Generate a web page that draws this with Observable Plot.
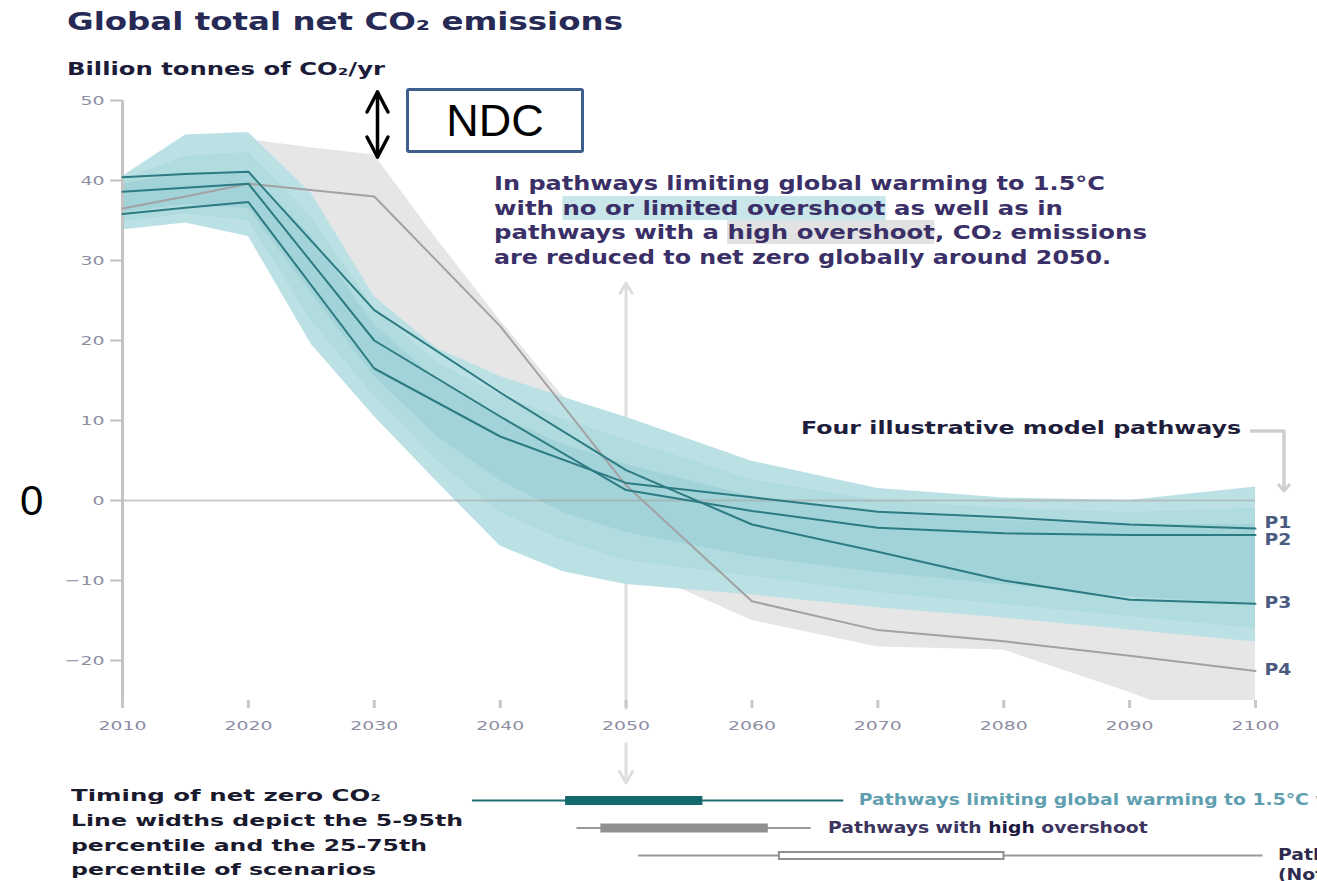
<!DOCTYPE html>
<html>
<head>
<meta charset="utf-8">
<script src="https://cdn.jsdelivr.net/npm/d3@7"></script>
<script src="https://cdn.jsdelivr.net/npm/@observablehq/plot@0.6"></script>
<style>
  html, body { margin: 0; padding: 0; background: #fff; }
  #page { position: relative; width: 1317px; height: 881px; overflow: hidden; font-family: "DejaVu Sans", sans-serif; }
  .abs { position: absolute; white-space: nowrap; }
  .fit { display: inline-block; transform-origin: 0 0; }
  #chart, #timing { position: absolute; left: 0; }
  #chart { top: 0; }
  #timing { top: 770px; }
  #title { left: 67px; top: 9px; font-size: 25px; line-height: 25px; font-weight: bold; color: #262a55; }
  #subtitle { left: 67px; top: 61px; font-size: 17px; line-height: 17px; font-weight: bold; color: #1c1c3a; }
  #note { left: 494px; top: 171px; font-size: 20px; line-height: 24.5px; font-weight: bold; color: #3a2f66; }
  .hl-teal { background: #c9e6ea; }
  .hl-gray { background: #e2e2e2; }
  #ndc { left: 406px; top: 88px; width: 172px; height: 59px; border: 3px solid #3e5f8c; border-radius: 3px;
         font-family: "Liberation Sans", Arial, sans-serif; font-size: 45px; line-height: 59px; text-align: center; color: #000; }
  #zero { left: 20px; top: 480px; font-family: "Liberation Sans", Arial, sans-serif; font-size: 42px; line-height: 42px; color: #000; }
  #four { left: 801px; top: 420px; font-size: 17.5px; line-height: 17.5px; font-weight: bold; color: #1e1e3c; }
  #caption { left: 71px; top: 784px; font-size: 15px; line-height: 24.8px; font-weight: bold; color: #1a1a2e; }
  svg.deco { position: absolute; overflow: visible; }
</style>
</head>
<body>
<div id="page">
  <div id="chart"></div>
  <div id="timing"></div>

  <div class="abs" id="title"><span class="fit" data-w="556">Global total net CO₂ emissions</span></div>
  <div class="abs" id="subtitle"><span class="fit" data-w="318">Billion tonnes of CO₂/yr</span></div>

  <div class="abs" id="ndc">NDC</div>
  <svg class="deco" style="left:360px;top:85px" width="36" height="80">
    <g fill="none" stroke="#000" stroke-width="3.5" stroke-linecap="round" stroke-linejoin="round">
      <line x1="17.5" y1="7" x2="17.5" y2="72"></line>
      <polyline points="7,27 17.5,7 28,27"></polyline>
      <polyline points="7,52 17.5,72 28,52"></polyline>
    </g>
  </svg>

  <div class="abs" id="note">
    <span class="fit" data-w="611">In pathways limiting global warming to 1.5°C</span><br>
    <span class="fit" data-w="569">with <span class="hl-teal">no or limited overshoot</span> as well as in</span><br>
    <span class="fit" data-w="653">pathways with a <span class="hl-gray">high overshoot</span>, CO₂ emissions</span><br>
    <span class="fit" data-w="617">are reduced to net zero globally around 2050.</span>
  </div>

  <div class="abs" id="zero">0</div>

  <div class="abs" id="four"><span class="fit" data-w="440">Four illustrative model pathways</span></div>
  <svg class="deco" style="left:1240px;top:420px" width="60" height="80">
    <g fill="none" stroke="#cfcfcf" stroke-width="3.5" stroke-linejoin="round">
      <polyline points="10,11 44,11 44,70"></polyline>
      <polyline points="38,64 44,71 50,64" stroke-width="3"></polyline>
    </g>
  </svg>

  <div class="abs" id="caption">
    <span class="fit" data-w="310">Timing of net zero CO₂</span><br>
    <span class="fit" data-w="392">Line widths depict the 5-95th</span><br>
    <span class="fit" data-w="356">percentile and the 25-75th</span><br>
    <span class="fit" data-w="305">percentile of scenarios</span>
  </div>
</div>

<script>
// ---- Range of scenarios limiting warming to 1.5°C with no or limited overshoot (GtCO2/yr)
const bandYears   = [2010, 2015, 2020, 2025, 2030, 2035, 2040, 2045, 2050, 2060, 2070, 2080, 2090, 2100];
const tealMax     = [40.5, 45.7, 46.0, 38.4, 25.5, 19.0, 15.5, 12.9, 10.4,  4.9,   1.5,   0.3,   0.0,   1.7];
const tealMin     = [33.8, 34.7, 33.0, 19.5, 10.5,  2.3, -5.7, -8.9, -10.5, -11.8, -13.4, -14.7, -16.2, -17.7];
const tealMidHi   = [40.0, 43.0, 43.5, 35.5, 24.0, 17.2, 13.2, 10.2,  7.6,  2.6,   0.0,  -1.0,  -1.5,  -1.0];
const tealMidLo   = [34.8, 35.8, 35.0, 22.5, 13.0,  5.0, -1.5, -5.0, -7.5,  -9.5, -11.5, -13.0, -14.5, -16.0];
const tealCoreHi  = [39.5, 41.0, 41.0, 33.0, 22.0, 15.0, 10.5,  7.0,  4.5,  0.5,  -1.5,  -2.5,  -3.0,  -3.0];
const tealCoreLo  = [36.0, 37.0, 36.5, 26.0, 15.5,  8.0,  2.5, -1.5, -4.0,  -7.0,  -9.0, -10.5, -12.0, -13.0];

// ---- Range of scenarios with a high overshoot
const grayYears = [2020, 2025, 2030, 2035, 2040, 2045, 2050, 2060, 2070, 2080, 2090, 2100];
const grayMax   = [45.1, 44.1, 43.2, 32.6, 22.5, 13.0,  8.0,   2.0,  -1.0,  -3.0,  -5.0,  -6.0];
const grayMin   = [38.0, 30.0, 22.0, 14.0,  6.0, -1.0, -8.0, -15.0, -18.3, -18.7, -24.0, -30.0];

// ---- Four illustrative model pathways
const pathYears = [2010, 2015, 2020, 2030, 2040, 2050, 2060, 2070, 2080, 2090, 2100];
const P1 = [35.8, 36.6, 37.3, 16.5,  8.0, 2.2,   0.4,  -1.4,  -2.1,  -3.0,  -3.5];
const P2 = [38.6, 39.1, 39.6, 20.0, 10.5, 1.3,  -1.3,  -3.4,  -4.1,  -4.3,  -4.3];
const P3 = [40.4, 40.8, 41.1, 23.8, 13.5, 3.8,  -3.0,  -6.4, -10.0, -12.4, -12.9];
const P4 = [36.5, 38.0, 39.6, 38.0, 21.8, 1.9, -12.6, -16.2, -17.6, -19.4, -21.3];

// ---- Axis ticks
const xTicks = [2010, 2020, 2030, 2040, 2050, 2060, 2070, 2080, 2090, 2100];
const yTicks = [-20, -10, 0, 10, 20, 30, 40, 50];
const netZeroYear = 2050;

// ---- Timing of net zero CO2 (percentiles of scenarios, year)
const timingLabels = [
  "Pathways limiting global warming to 1.5°C with no or limited overshoot",
  "Pathways with high overshoot",
  "Pathways limiting global warming below 2°C"
];
const timingNotes = ["", "", "(Not shown above)"];
const p5  = [2037.8, 2046.1, 2051.0];
const p25 = [2045.2, 2048.0, 2062.1];
const p75 = [2056.1, 2061.3, 2080.1];
const p95 = [2067.3, 2064.7, 2100.6];

// ---- Tables for the marks
const teal = bandYears.map((year, i) => ({
  year, lo: tealMin[i], hi: tealMax[i],
  midLo: tealMidLo[i], midHi: tealMidHi[i],
  coreLo: tealCoreLo[i], coreHi: tealCoreHi[i]
}));
const gray = grayYears.map((year, i) => ({year, lo: grayMin[i], hi: grayMax[i]}));
const pathways = {P1, P2, P3, P4};
const pathRows = Object.entries(pathways).flatMap(([name, vals]) =>
  vals.map((value, i) => ({name, year: pathYears[i], value})));
const pathEnds = Object.entries(pathways).map(([name, vals]) =>
  ({name, year: pathYears[pathYears.length - 1], value: vals[vals.length - 1]}));
const timingRows = timingLabels.map((name, row) => ({
  name, row, note: timingNotes[row], p5: p5[row], p25: p25[row], p75: p75[row], p95: p95[row]
}));

const teals = ["P1", "P2", "P3"];

const chart = Plot.plot({
  width: 1317,
  height: 790,
  marginLeft: 122,
  marginRight: 62,
  marginTop: 100,
  marginBottom: 90,
  x: {domain: [2010, 2100], label: null},
  y: {domain: [-25, 50], label: null},
  style: {fontFamily: "DejaVu Sans, sans-serif", fontSize: "13px", background: "transparent", overflow: "visible"},
  marks: [
    // guide at the year of net zero
    Plot.arrow([{x: netZeroYear, y1: -26, y2: 27.2}], {x1: "x", x2: "x", y1: "y1", y2: "y2", stroke: "#dedede", strokeWidth: 3, headLength: 6}),
    Plot.arrow([{x: netZeroYear, y1: -30.4, y2: -35.3}], {x1: "x", x2: "x", y1: "y1", y2: "y2", stroke: "#dedede", strokeWidth: 3, headLength: 8}),
    // high overshoot range
    Plot.areaY(gray, {x: "year", y1: "lo", y2: "hi", fill: "#e6e6e6", clip: true}),
    // no or limited overshoot range, denser towards the middle
    Plot.areaY(teal, {x: "year", y1: "lo", y2: "hi", fill: "#bce1e5"}),
    Plot.areaY(teal, {x: "year", y1: "midLo", y2: "midHi", fill: "#8ccad0", fillOpacity: 0.25}),
    Plot.areaY(teal, {x: "year", y1: "coreLo", y2: "coreHi", fill: "#6fb7bf", fillOpacity: 0.22}),
    // zero line and y axis line
    Plot.ruleY([0], {x1: 2010, x2: 2100, stroke: "#a8a8a8", strokeOpacity: 0.6, strokeWidth: 2}),
    Plot.ruleX([{x: 2010, y1: 50, y2: -25.75}], {x: "x", y1: "y1", y2: "y2", stroke: "#c4c4c4", strokeWidth: 3}),
    // illustrative pathways
    Plot.line(pathRows.filter(d => d.name === "P4"), {x: "year", y: "value", stroke: "#a2a2a2", strokeWidth: 2}),
    Plot.line(pathRows.filter(d => teals.includes(d.name)), {x: "year", y: "value", z: "name", stroke: "#2d7b82", strokeWidth: 2}),
    Plot.text(pathEnds.filter(d => d.name === "P1"), {x: "year", y: "value", text: "name", dx: 9, dy: -5, textAnchor: "start", fill: "#4b5b80", fontWeight: "bold", fontSize: 15}),
    Plot.text(pathEnds.filter(d => d.name === "P2"), {x: "year", y: "value", text: "name", dx: 9, dy: 5, textAnchor: "start", fill: "#4b5b80", fontWeight: "bold", fontSize: 15}),
    Plot.text(pathEnds.filter(d => d.name === "P3" || d.name === "P4"), {x: "year", y: "value", text: "name", dx: 9, dy: -1, textAnchor: "start", fill: "#4b5b80", fontWeight: "bold", fontSize: 15}),
    // axes
    Plot.axisY({ticks: yTicks, tickSize: 12, tickPadding: 6, stroke: "#c0c0c0", strokeWidth: 2, fill: "#8d8da3", fontSize: 13, label: null}),
    Plot.axisX({ticks: xTicks, tickSize: 8, tickPadding: 12, tickFormat: d => String(d), stroke: "#c8c8c8", strokeWidth: 3, fill: "#8d8da3", fontSize: 13, label: null})
  ]
});
document.getElementById("chart").appendChild(chart);

const timing = Plot.plot({
  width: 1317,
  height: 111,
  marginLeft: 122,
  marginRight: 62,
  marginTop: 0,
  marginBottom: 0,
  x: {domain: [2010, 2100], axis: null},
  y: {domain: [0, 2], range: [30, 85], axis: null},
  style: {fontFamily: "DejaVu Sans, sans-serif", background: "transparent", overflow: "visible"},
  marks: [
    // 5–95th percentile
    Plot.ruleY(timingRows.filter(d => d.row === 0), {y: "row", x1: "p5", x2: "p95", stroke: "#1f6f74", strokeWidth: 2}),
    Plot.ruleY(timingRows.filter(d => d.row > 0), {y: "row", x1: "p5", x2: "p95", stroke: "#999999", strokeWidth: 2}),
    // 25–75th percentile
    Plot.ruleY(timingRows.filter(d => d.row === 0), {y: "row", x1: "p25", x2: "p75", stroke: "#12686c", strokeWidth: 9}),
    Plot.ruleY(timingRows.filter(d => d.row > 0), {y: "row", x1: "p25", x2: "p75", stroke: "#8f8f8f", strokeWidth: 9}),
    Plot.ruleY(timingRows.filter(d => d.row === 2), {y: "row", x1: "p25", x2: "p75", stroke: "#ffffff", strokeWidth: 5, inset: 2}),
    // labels
    Plot.text(timingRows.filter(d => d.row === 0), {x: "p95", y: "row", text: "name", dx: 15, textAnchor: "start", fill: "#5f9fb0", fontSize: 15, fontWeight: "bold"}),
    Plot.text(timingRows.filter(d => d.row === 1), {x: "p95", y: "row", text: "name", dx: 17, textAnchor: "start", fill: "#3b3560", fontSize: 15, fontWeight: "bold"}),
    Plot.text(timingRows.filter(d => d.row === 2), {x: "p95", y: "row", text: "name", dx: 15, textAnchor: "start", fill: "#2e2a4e", fontSize: 15, fontWeight: "bold"}),
    Plot.text(timingRows.filter(d => d.row === 2), {x: "p95", y: "row", text: "note", dx: 15, dy: 20, textAnchor: "start", fill: "#2e2a4e", fontSize: 15, fontWeight: "bold"})
  ]
});
document.getElementById("timing").appendChild(timing);

// Emphasise "high" in the overshoot label
timing.querySelectorAll("text").forEach(t => {
  if (t.textContent === "Pathways with high overshoot") {
    t.innerHTML = 'Pathways with <tspan fill="#1c1840">high</tspan> overshoot';
  }
});

// Wide lettering: stretch texts horizontally
function stretch(root, selector, factor) {
  root.querySelectorAll(selector).forEach(t => {
    const w = t.getComputedTextLength();
    if (w > 0) {
      t.setAttribute("textLength", (w * factor).toFixed(1));
      t.setAttribute("lengthAdjust", "spacingAndGlyphs");
    }
  });
}
stretch(chart, '[aria-label$="tick label"] text', 1.45);
stretch(chart, 'g[aria-label="text"] text', 1.25);
stretch(timing, 'g[aria-label="text"] > text', 1.25);

// Fit HTML text lines to their set widths
document.querySelectorAll("[data-w]").forEach(el => {
  const w = el.getBoundingClientRect().width;
  if (w > 0) el.style.transform = `scaleX(${(+el.dataset.w / w).toFixed(4)})`;
});
</script>
</body>
</html>
